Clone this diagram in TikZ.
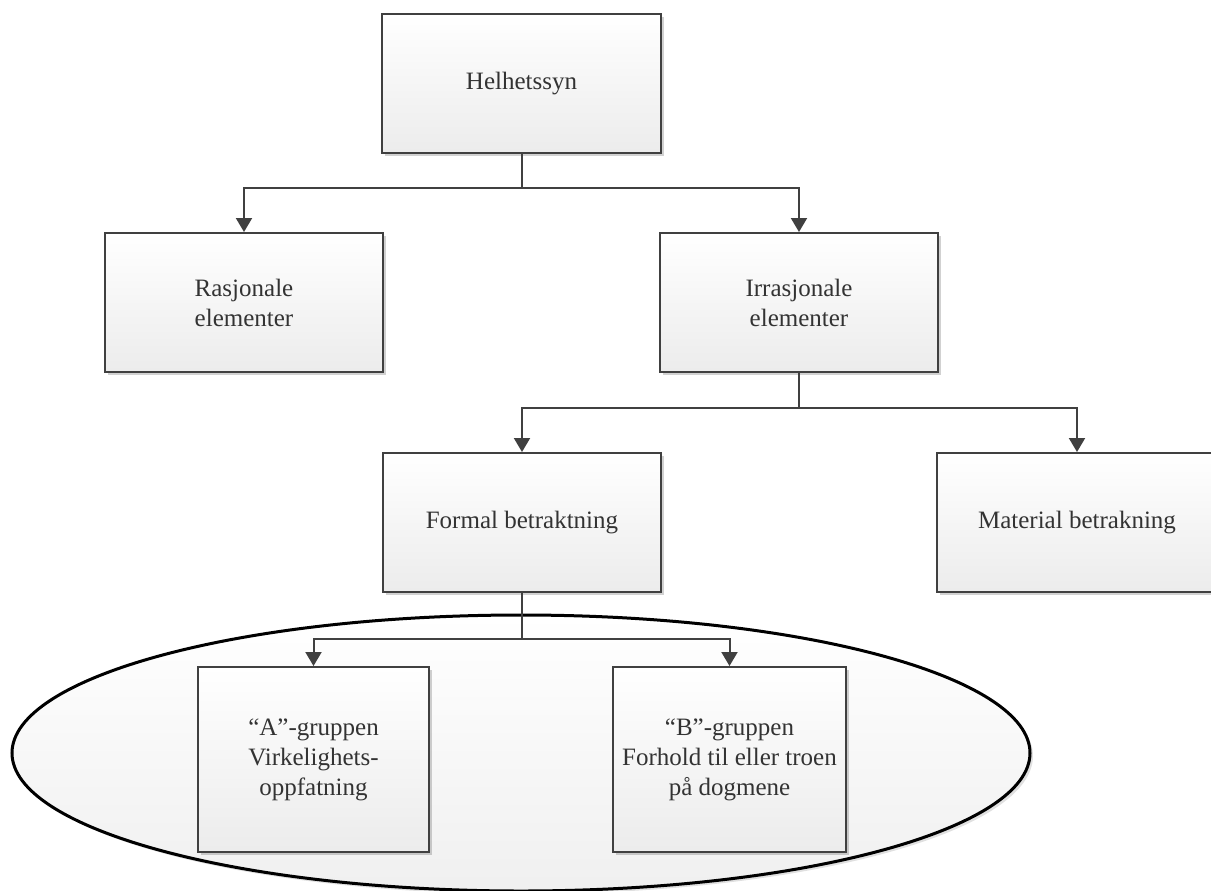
\documentclass[tikz,border=0pt]{standalone}
\usepackage{fontspec}
\setmainfont{Liberation Serif}
\usetikzlibrary{arrows.meta,shadows,shapes.geometric}
\definecolor{linegray}{HTML}{404040}
\definecolor{textgray}{HTML}{333333}
\tikzset{
  boxnode/.style={draw=linegray, line width=1pt, rectangle,
    top color=white, bottom color=gray!15,
    drop shadow={shadow xshift=1.5pt, shadow yshift=-1.5pt, fill=black, opacity=0.18},
    text=textgray, align=center, font=\fontsize{12.5pt}{15pt}\selectfont,
    inner sep=0pt},
  conn/.style={draw=linegray, line width=1pt, -{Triangle[width=8pt,length=7pt]}},
}
\begin{document}
\begin{tikzpicture}[x=0.5pt,y=-0.5pt]
\useasboundingbox (0,0) rectangle (1211,890);
% ellipse group
\node[ellipse, draw=black, line width=1.5pt, top color=white, bottom color=gray!12,
  minimum width=509pt, minimum height=138pt, inner sep=0pt,
  drop shadow={shadow xshift=1.5pt, shadow yshift=-1.5pt, fill=black, opacity=0.12}]
  (grp) at (521,753) {};
% boxes
\node[boxnode, minimum width=139.5pt, minimum height=69.5pt] (H) at (521.5,83.5) {Helhetssyn};
\node[boxnode, minimum width=139pt, minimum height=69.5pt] (R) at (244,302.5) {Rasjonale\\elementer};
\node[boxnode, minimum width=139pt, minimum height=69.5pt] (I) at (799,302.5) {Irrasjonale\\elementer};
\node[boxnode, minimum width=139pt, minimum height=69.5pt] (F) at (522,522.5) {Formal betraktning};
\node[boxnode, minimum width=140pt, minimum height=69.5pt] (M) at (1077,522.5) {Material betrakning};
\node[boxnode, minimum width=115.5pt, minimum height=92.5pt] (A) at (313.5,759.5) {“A”-gruppen\\Virkelighets-\\oppfatning};
\node[boxnode, minimum width=116.5pt, minimum height=92.5pt] (B) at (729.5,759.5) {“B”-gruppen\\Forhold til eller troen\\på dogmene};
% connectors
\draw[conn] (H.south) -- ++(0,34) -| (R.north);
\draw[conn] (H.south) -- ++(0,34) -| (I.north);
\draw[conn] (I.south) -- ++(0,35) -| (F.north);
\draw[conn] (I.south) -- ++(0,35) -| (M.north);
\draw[conn] (F.south) -- ++(0,46) -| (A.north);
\draw[conn] (F.south) -- ++(0,46) -| (B.north);
\end{tikzpicture}
\end{document}
